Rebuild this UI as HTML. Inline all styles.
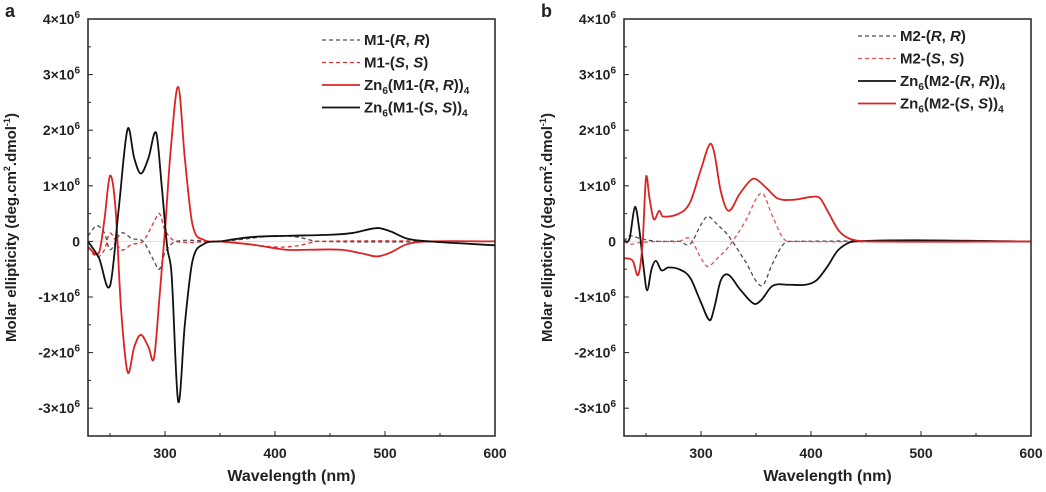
<!DOCTYPE html>
<html><head><meta charset="utf-8"><style>
body{margin:0;background:#fff;width:1046px;height:487px;overflow:hidden}
svg text{font-family:"Liberation Sans",Arial,sans-serif;font-weight:bold;fill:#222}
</style></head><body>
<svg id="c" width="1046" height="487"></svg>
<script>
// Panel a data (units of 1e6)
const aRRx=[230,238,245,250,260,270,280,290,295,300,310,350,400,420,440,600];
const aRRy=[0.1,0.28,0.15,-0.15,0.15,0.05,0,-0.35,-0.5,-0.2,0,0,0.1,0.08,0,0];
const aSSx=[230,238,245,250,260,270,280,290,295,300,310,350,400,420,440,600];
const aSSy=[-0.1,-0.28,-0.15,0.15,-0.15,-0.05,0,0.35,0.5,0.2,0,0,-0.1,-0.08,0,0];
const aZnRRx=[230,240,245,250,255,260,266,272,278,285,290,295,300,305,312,318,325,335,350,380,410,430,460,480,493,505,520,540,600];
const aZnRRy=[-0.1,-0.2,0.4,1.18,0.6,-1.2,-2.35,-1.9,-1.68,-1.9,-2.1,-1.0,0.2,1.6,2.78,1.5,0.3,0.03,0,-0.06,-0.15,-0.15,-0.15,-0.22,-0.27,-0.2,-0.05,0,0];
const aZnSSx=[230,240,250,258,266,272,278,285,292,297,302,306,312,318,325,335,350,380,410,450,470,493,505,520,540,600];
const aZnSSy=[0,-0.3,-0.8,0.6,2.02,1.5,1.22,1.5,1.95,1.0,-0.1,-0.6,-2.88,-1.5,-0.35,-0.05,0,0.08,0.1,0.12,0.15,0.24,0.18,0.05,0,-0.07];
// Panel b data
const bRRx=[230,235,245,260,280,290,300,306,315,325,340,355,365,375,385,600];
const bRRy=[0,0.1,0.05,0,0,-0.05,0.3,0.45,0.3,0.1,-0.35,-0.8,-0.4,-0.05,0,0];
const bSSx=[230,235,245,260,280,290,300,306,315,325,340,355,365,375,385,600];
const bSSy=[0,-0.05,-0.02,0,0,0.05,-0.3,-0.45,-0.3,-0.1,0.35,0.87,0.45,0.05,0,0];
const bZnRRx=[230,235,240,244,248,251,255,259,264,270,280,290,300,308,312,318,325,335,348,355,365,380,395,405,415,425,440,600];
const bZnRRy=[0,0.05,0.62,0.2,-0.5,-0.88,-0.5,-0.35,-0.52,-0.47,-0.5,-0.65,-1.1,-1.42,-1.2,-0.7,-0.6,-0.85,-1.12,-1.05,-0.8,-0.78,-0.78,-0.7,-0.45,-0.15,0,0];
const bZnSSx=[230,238,243,247,250,253,257,262,265,280,290,300,308,312,318,325,335,345,350,360,370,385,400,408,415,425,435,450,600];
const bZnSSy=[-0.3,-0.35,-0.6,0,1.15,0.8,0.4,0.55,0.45,0.5,0.7,1.3,1.75,1.6,0.9,0.55,0.85,1.1,1.12,0.95,0.77,0.75,0.8,0.78,0.55,0.2,0.05,0,0];
const xTicks=[300,400,500,600];
const yTicks=[-3,-2,-1,0,1,2,3,4];
const legendA=["M1-(<tspan font-style='italic'>R</tspan>, <tspan font-style='italic'>R</tspan>)","M1-(<tspan font-style='italic'>S</tspan>, <tspan font-style='italic'>S</tspan>)","Zn<tspan font-size='10' dy='4'>6</tspan><tspan dy='-4'>(M1-(</tspan><tspan font-style='italic'>R</tspan>, <tspan font-style='italic'>R</tspan>))<tspan font-size='10' dy='4'>4</tspan>","Zn<tspan font-size='10' dy='4'>6</tspan><tspan dy='-4'>(M1-(</tspan><tspan font-style='italic'>S</tspan>, <tspan font-style='italic'>S</tspan>))<tspan font-size='10' dy='4'>4</tspan>"];
const legendB=["M2-(<tspan font-style='italic'>R</tspan>, <tspan font-style='italic'>R</tspan>)","M2-(<tspan font-style='italic'>S</tspan>, <tspan font-style='italic'>S</tspan>)","Zn<tspan font-size='10' dy='4'>6</tspan><tspan dy='-4'>(M2-(</tspan><tspan font-style='italic'>R</tspan>, <tspan font-style='italic'>R</tspan>))<tspan font-size='10' dy='4'>4</tspan>","Zn<tspan font-size='10' dy='4'>6</tspan><tspan dy='-4'>(M2-(</tspan><tspan font-style='italic'>S</tspan>, <tspan font-style='italic'>S</tspan>))<tspan font-size='10' dy='4'>4</tspan>"];

const svg=document.getElementById('c');
const NS='http://www.w3.org/2000/svg';
function mk(t,a,p){const e=document.createElementNS(NS,t);for(const k in a)e.setAttribute(k,a[k]);(p||svg).appendChild(e);return e;}
function smooth(pts){
  const n=pts.length,m=[];
  for(let i=0;i<n;i++){const a=pts[Math.max(0,i-1)],b=pts[Math.min(n-1,i+1)];m.push((b[1]-a[1])/(b[0]-a[0]));}
  let d=`M${pts[0][0]},${pts[0][1]}`;
  for(let i=0;i<n-1;i++){const p1=pts[i],p2=pts[i+1],h=(p2[0]-p1[0])/3;
    d+=` C${p1[0]+h},${p1[1]+m[i]*h} ${p2[0]-h},${p2[1]-m[i+1]*h} ${p2[0]},${p2[1]}`;}
  return d;}

function panel(L,R,letter,series,legend,lx,ly){
  const T=19,B=436;
  const X=v=>L+(v-230)/(600-230)*(R-L);
  const Y=v=>B-(v+3.5)/7.5*(B-T);
  const g=mk('g',{});
  
  
  const lt=mk('text',{x:L-83,y:17,'font-size':18,'font-weight':'normal'},g);lt.textContent=letter;
  
  mk('line',{x1:L,x2:R,y1:Y(0),y2:Y(0),stroke:'#ddd','stroke-width':1},g);
  series.forEach(s=>{
    const pts=s.x.map((v,i)=>[X(v),Y(s.y[i])]);
    const p=mk('path',{d:smooth(pts),fill:'none',stroke:s.c,'stroke-width':s.dash?1.3:1.8,'stroke-dasharray':s.dash?'4,3':'none'},g);
    
  });
  mk('rect',{x:L,y:T,width:R-L,height:B-T,fill:'none',stroke:'#222','stroke-width':1.5},g);
  for(let v=250;v<=600;v+=50){const maj=v%100==0;mk('line',{x1:X(v),x2:X(v),y1:B,y2:B-(maj?5:3),stroke:'#222'},g);}
  xTicks.forEach(v=>{const t=mk('text',{x:X(v),y:B+22,'font-size':14,'text-anchor':'middle'},g);t.textContent=v;
    });
  for(let v=-3.5;v<=4;v+=0.5){const maj=Number.isInteger(v);mk('line',{x1:L,x2:L+(maj?5:3),y1:Y(v),y2:Y(v),stroke:'#222'},g);}
  yTicks.forEach(v=>{const t=mk('text',{x:L-8,y:Y(v)+5,'font-size':14,'text-anchor':'end'},g);
    t.innerHTML=v==0?'0':`${v}×10<tspan font-size='10' dy='-6'>6</tspan>`;
    });
  const xt=mk('text',{x:(L+R)/2,y:481,'font-size':16,'text-anchor':'middle'},g);xt.textContent='Wavelength (nm)';
  
  const yt=mk('text',{x:0,y:0,'font-size':15,'text-anchor':'middle',transform:`translate(${L-72},${(T+B)/2}) rotate(-90)`},g);
  yt.innerHTML="Molar ellipticity  (deg.cm<tspan font-size='9' dy='-6'>2</tspan><tspan dy='6'>.dmol</tspan><tspan font-size='9' dy='-6'>-1</tspan><tspan dy='6'>)</tspan>";
  
  series.forEach((s,i)=>{
    const yy=ly+i*22.5;
    const le=mk('g',{},g);
    
    mk('line',{x1:lx,x2:lx+38,y1:yy,y2:yy,stroke:s.c,'stroke-width':s.dash?1.3:1.8,'stroke-dasharray':s.dash?'4,3':'none'},le);
    const t=mk('text',{x:lx+42,y:yy+5,'font-size':15,'font-weight':'normal'},le);t.innerHTML=legend[i];
  });
}
panel(88,495,'a',[
 {x:aRRx,y:aRRy,c:'#4a4a5a',dash:1,name:'m1-rr-line'},
 {x:aSSx,y:aSSy,c:'#d33',dash:1,name:'m1-ss-line'},
 {x:aZnRRx,y:aZnRRy,c:'#d22',dash:0,name:'zn6-m1-rr-line'},
 {x:aZnSSx,y:aZnSSy,c:'#111',dash:0,name:'zn6-m1-ss-line'}],legendA,322,40);
panel(624,1031,'b',[
 {x:bRRx,y:bRRy,c:'#4a4a5a',dash:1,name:'m2-rr-line'},
 {x:bSSx,y:bSSy,c:'#d55',dash:1,name:'m2-ss-line'},
 {x:bZnRRx,y:bZnRRy,c:'#111',dash:0,name:'zn6-m2-rr-line'},
 {x:bZnSSx,y:bZnSSy,c:'#d22',dash:0,name:'zn6-m2-ss-line'}],legendB,858,36);
</script>
</body></html>
